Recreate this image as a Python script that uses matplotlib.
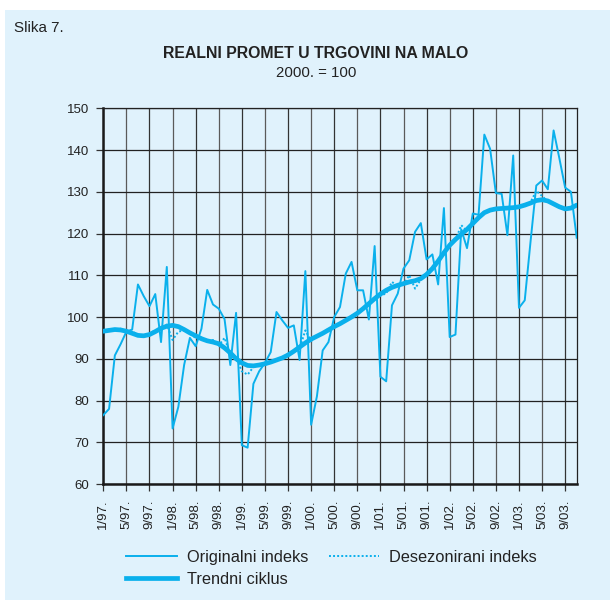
import matplotlib
matplotlib.use("Agg")
import matplotlib.pyplot as plt
from matplotlib.patches import Rectangle
from matplotlib.lines import Line2D

plt.rcParams['font.family'] = ['Liberation Sans', 'DejaVu Sans']

# ---- data (monthly, 1/97 .. 11/03) ----
original = [76.5, 78.0, 90.8, 93.5, 96.5, 97.0, 107.8, 105.0, 102.6, 105.5,
            94.0, 112.0, 73.3, 78.5, 88.5, 95.0, 93.0, 97.2, 106.5, 103.0,
            102.0, 99.5, 88.5, 101.0, 69.3, 68.7, 84.0, 87.0, 89.0, 91.6,
            101.2, 99.2, 97.4, 98.0, 89.7, 111.0, 74.2, 81.0, 92.0, 94.0,
            100.0, 102.4, 110.4, 113.2, 106.4, 106.4, 99.4, 117.0, 85.7, 84.6,
            102.8, 105.6, 111.6, 113.6, 120.4, 122.5, 113.8, 115.0, 107.8, 126.1,
            95.2, 95.8, 121.0, 116.5, 124.8, 124.5, 143.7, 140.3, 129.7, 129.5,
            119.6, 138.7, 102.2, 104.0, 118.0, 131.5, 132.7, 130.6, 144.7, 138.0,
            131.0, 130.0, 119.0]

deseasonal = [96.8, 97.0, 96.7, 97.2, 96.2, 96.5, 95.8, 95.2, 96.0, 96.8,
              97.0, 98.2, 94.5, 96.5, 96.8, 96.0, 95.0, 95.1, 94.0, 94.5,
              93.2, 95.0, 91.0, 90.3, 87.0, 86.2, 88.0, 88.6, 88.6, 89.5,
              89.8, 90.0, 91.2, 92.0, 92.5, 96.8, 94.2, 95.6, 96.0, 97.2,
              97.5, 98.6, 99.0, 100.3, 100.7, 102.2, 103.0, 104.8, 105.2, 105.6,
              108.4, 107.4, 107.8, 110.0, 106.8, 109.0, 110.4, 111.4, 113.6, 115.0,
              117.4, 118.4, 122.0, 120.6, 122.6, 123.5, 125.3, 125.4, 126.1, 125.8,
              126.3, 126.0, 126.6, 126.6, 127.5, 130.2, 129.0, 127.6, 127.3, 126.2,
              126.0, 126.0, 127.0]

trend = [96.6, 96.8, 97.0, 96.9, 96.6, 96.1, 95.6, 95.5, 95.8, 96.5,
         97.3, 97.8, 98.0, 97.7, 97.0, 96.2, 95.5, 94.8, 94.3, 94.0,
         93.6, 92.6, 91.4, 90.0, 89.0, 88.4, 88.3, 88.5, 88.8, 89.2,
         89.7, 90.2, 90.9, 91.8, 92.8, 93.8, 94.7, 95.4, 96.1, 96.9,
         97.7, 98.4, 99.2, 100.0, 100.9, 102.0, 103.2, 104.4, 105.5, 106.4,
         107.1, 107.6, 108.0, 108.4, 108.7, 109.2, 110.2, 111.6, 113.4, 115.4,
         117.2, 118.6, 119.8, 121.0, 122.4, 123.8, 125.0, 125.6, 125.9, 126.0,
         126.1, 126.2, 126.4, 126.8, 127.3, 127.9, 128.1, 127.8, 127.1, 126.4,
         125.9, 126.1, 126.8]

tick_labels = ['1/97.', '5/97.', '9/97.', '1/98.', '5/98.', '9/98.', '1/99.',
               '5/99.', '9/99.', '1/00.', '5/00.', '9/00.', '1/01.', '5/01.',
               '9/01.', '1/02.', '5/02.', '9/02.', '1/03.', '5/03.', '9/03.']
y_ticks = [60, 70, 80, 90, 100, 110, 120, 130, 140, 150]

series_names = ['Originalni indeks', 'Desezonirani indeks', 'Trendni ciklus']

# ---- styling ----
W, H = 610, 605
panel = '#e0f2fc'
cyan = '#0ab0ec'

fig = plt.figure(figsize=(W / 100, H / 100), dpi=100, facecolor='white')
bg = Rectangle((5 / W, 5 / H), 1 - 5 / W, (H - 15) / H,
               transform=fig.transFigure, facecolor=panel,
               edgecolor='none', zorder=-10)
fig.patches.append(bg)

ax = fig.add_axes([103.3 / W, (H - 484) / H, (576.7 - 103.3) / W, (484 - 108.3) / H])
ax.set_zorder(5)
ax.set_facecolor('none')

x = list(range(len(original)))
ax.plot(x, trend, color=cyan, lw=3.4, solid_capstyle='round', zorder=3)
ax.plot(x, deseasonal, color=cyan, lw=1.4, linestyle=(0, (1, 1.1)), zorder=4)
ax.plot(x, original, color=cyan, lw=1.4, zorder=5)

ax.set_xlim(0, len(original) - 1)
ax.set_ylim(60, 150)
ax.set_yticks(y_ticks)
ax.set_yticklabels([str(v) for v in y_ticks])
xt = list(range(0, 4 * len(tick_labels), 4))
ax.set_xticks(xt)
ax.set_xticklabels(tick_labels, rotation=90, ha='center', va='top')

for i, t in enumerate(xt):
    ax.axvline(t, color='#333333' if i % 2 == 0 else '#5a5a5a', lw=0.9, zorder=1)
for v in y_ticks:
    ax.axhline(v, color='#222222', lw=0.9, zorder=1)

for s in ['top', 'right']:
    ax.spines[s].set_linewidth(0.9)
    ax.spines[s].set_color('#222222')
for s in ['left', 'bottom']:
    ax.spines[s].set_linewidth(1.8)
    ax.spines[s].set_color('#1a1a1a')
ax.tick_params(axis='both', direction='out', length=5, width=0.9,
               color='#333333', labelsize=9.5, labelcolor='#222222')
ax.tick_params(axis='y', pad=5)
ax.tick_params(axis='x', pad=6)

# ---- titles ----
fig.text(14 / W, 1 - 28 / H, 'Slika 7.', fontsize=10.9, color='#222222',
         ha='left', va='center')
fig.text(316 / W, 1 - 53 / H, 'REALNI PROMET U TRGOVINI NA MALO', fontsize=11.4,
         fontweight='bold', color='#222222', ha='center', va='center')
fig.text(316 / W, 1 - 73 / H, '2000. = 100', fontsize=10.8, color='#222222',
         ha='center', va='center')

# ---- legend ----
handles = [Line2D([], [], color=cyan, lw=1.4),
           Line2D([], [], color=cyan, lw=3.4),
           Line2D([], [], color=cyan, lw=1.4, linestyle=(0, (1, 1.1)))]
labels = [series_names[0], series_names[2], series_names[1]]
fig.legend(handles, labels, ncol=2, loc='upper left',
           bbox_to_anchor=(126 / W, 1 - 550 / H), frameon=False,
           fontsize=11.8, handlelength=3.1, handletextpad=0.6,
           columnspacing=1.25, labelspacing=0.44, borderpad=0,
           borderaxespad=0, labelcolor='#222222')

fig.savefig('out.png', dpi=100, facecolor='white')
